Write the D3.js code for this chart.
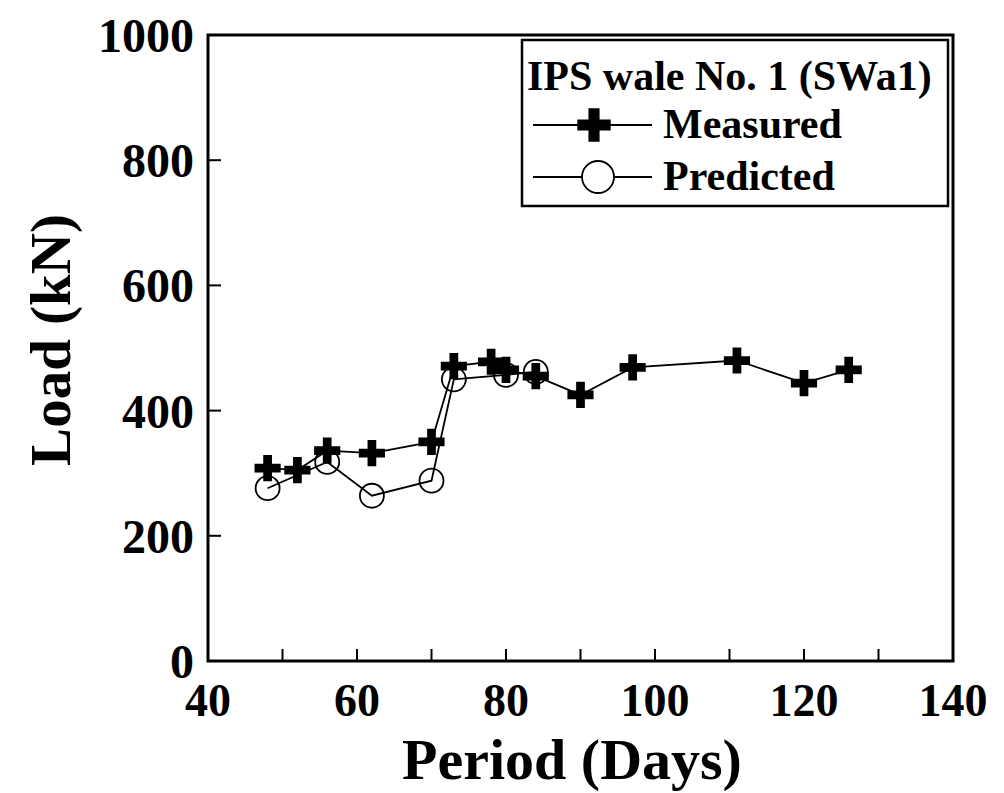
<!DOCTYPE html>
<html lang="en">
<head>
  <meta charset="UTF-8">
  <title>IPS wale No. 1 (SWa1)</title>
  <script src="https://d3js.org/d3.v7.min.js"></script>
  <style>
    body { margin: 0; background: #fff; }
    svg { display: block; }
    text { font-family: "Liberation Serif", "Times New Roman", serif; font-weight: bold; fill: #000; }
  </style>
</head>
<body>
<div id="chart"></div>
<script>
  // measured load (kN) by period (days)
  const measuredDays = [48, 52, 56, 62, 70, 73, 78, 80, 84, 90, 97, 111, 120, 126];
  const measuredLoad = [308, 305, 336, 332, 350, 471, 478, 465, 455, 425, 469, 480, 444, 465];

  // predicted load
  const predictedDays = [48, 56, 62, 70, 73, 80, 84];
  const predictedLoad = [276, 318, 264, 288, 450, 457, 462];

  const xTicks = [40, 60, 80, 100, 120, 140];
  const xMinorTicks = [50, 60, 70, 80, 90, 100, 110, 120, 130];
  const yTicks = [0, 200, 400, 600, 800, 1000];

  const width = 1004, height = 793;
  const margin = { top: 35, right: 51, bottom: 132, left: 208 };

  const svg = d3.select("#chart").append("svg")
    .attr("width", width).attr("height", height);

  const x = d3.scaleLinear().domain([40, 140]).range([margin.left, width - margin.right]);
  const y = d3.scaleLinear().domain([0, 1000]).range([height - margin.bottom, margin.top]);

  // frame
  svg.append("rect")
    .attr("x", x(40)).attr("y", y(1000))
    .attr("width", x(140) - x(40)).attr("height", y(0) - y(1000))
    .attr("fill", "none").attr("stroke", "#000").attr("stroke-width", 3);

  // inward ticks
  svg.selectAll(".xtick").data(xMinorTicks).enter().append("line")
    .attr("x1", d => x(d)).attr("x2", d => x(d))
    .attr("y1", y(0)).attr("y2", y(0) - 12)
    .attr("stroke", "#000").attr("stroke-width", 2);

  svg.selectAll(".ytick").data(yTicks.slice(1, -1)).enter().append("line")
    .attr("x1", x(40)).attr("x2", x(40) + 13)
    .attr("y1", d => y(d)).attr("y2", d => y(d))
    .attr("stroke", "#000").attr("stroke-width", 2);

  // tick labels
  svg.selectAll(".xlab").data(xTicks).enter().append("text")
    .attr("x", d => x(d)).attr("y", 716)
    .attr("text-anchor", "middle").style("font-size", "46px")
    .text(d => d);

  svg.selectAll(".ylab").data(yTicks).enter().append("text")
    .attr("x", 194).attr("y", d => y(d) + 17)
    .attr("text-anchor", "end").style("font-size", "48px")
    .text(d => d);

  // axis titles
  svg.append("text")
    .attr("x", 572).attr("y", 779)
    .attr("text-anchor", "middle").style("font-size", "58px")
    .text("Period (Days)");

  svg.append("text")
    .attr("transform", "translate(70,340) rotate(-90)")
    .attr("text-anchor", "middle").style("font-size", "57px")
    .text("Load (kN)");

  const measured = measuredDays.map((d, i) => ({ d, v: measuredLoad[i] }));
  const predicted = predictedDays.map((d, i) => ({ d, v: predictedLoad[i] }));

  const line = d3.line().x(p => x(p.d)).y(p => y(p.v));

  svg.append("path").attr("d", line(measured))
    .attr("fill", "none").attr("stroke", "#000").attr("stroke-width", 1.8);
  svg.append("path").attr("d", line(predicted))
    .attr("fill", "none").attr("stroke", "#000").attr("stroke-width", 1.8);

  svg.selectAll(".circ").data(predicted).enter().append("circle")
    .attr("cx", p => x(p.d)).attr("cy", p => y(p.v)).attr("r", 12)
    .attr("fill", "none").attr("stroke", "#000").attr("stroke-width", 1.8);

  const cross = d3.symbol().type(d3.symbolCross).size(380);
  svg.selectAll(".plus").data(measured).enter().append("path")
    .attr("d", cross)
    .attr("transform", p => `translate(${x(p.d)},${y(p.v)})`)
    .attr("fill", "#000");

  // legend
  const lg = svg.append("g");
  lg.append("rect")
    .attr("x", 522).attr("y", 40).attr("width", 426).attr("height", 166)
    .attr("fill", "#fff").attr("stroke", "#000").attr("stroke-width", 2.5);
  lg.append("text").attr("x", 527).attr("y", 90).style("font-size", "42px")
    .text("IPS wale No. 1 (SWa1)");

  const rows = [
    { label: "Measured", y: 125, mark: "plus" },
    { label: "Predicted", y: 177, mark: "circle" }
  ];
  rows.forEach(r => {
    lg.append("line").attr("x1", 533).attr("x2", 652).attr("y1", r.y).attr("y2", r.y)
      .attr("stroke", "#000").attr("stroke-width", 1.8);
    if (r.mark === "plus") {
      lg.append("path").attr("d", d3.symbol().type(d3.symbolCross).size(620))
        .attr("transform", `translate(594,${r.y})`).attr("fill", "#000");
    } else {
      lg.append("circle").attr("cx", 598).attr("cy", r.y).attr("r", 16)
        .attr("fill", "#fff").attr("stroke", "#000").attr("stroke-width", 1.8);
    }
    lg.append("text").attr("x", 663).attr("y", r.y + 13).style("font-size", "42px")
      .text(r.label);
  });
</script>
</body>
</html>
